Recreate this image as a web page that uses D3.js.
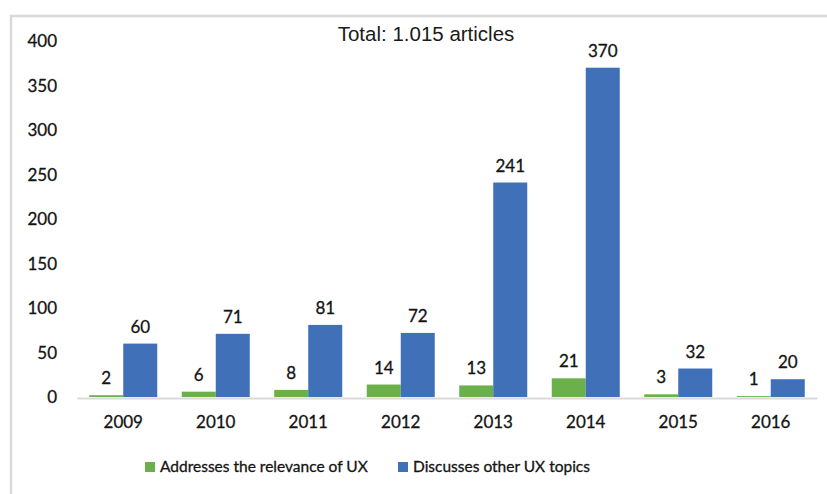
<!DOCTYPE html>
<html><head><meta charset="utf-8">
<script src="https://cdn.jsdelivr.net/npm/d3@7"></script>
<style>body{margin:0;background:#fff}svg{display:block}</style>
</head><body>
<script>
const years = ["2009","2010","2011","2012","2013","2014","2015","2016"];
const relevance = [2,6,8,14,13,21,3,1];
const otherTopics = [60,71,81,72,241,370,32,20];
const yTicks = [0,50,100,150,200,250,300,350,400];
const seriesNames = ["Addresses the relevance of UX","Discusses other UX topics"];
const colors = ["#6bb04a","#3f70b8"];
const title = "Total: 1.015 articles";

const W=827,H=494;
const svg=d3.select("body").append("svg").attr("width",W).attr("height",H);
const font="Lato, 'Open Sans', sans-serif";
const txt="#141414";
// frame
svg.append("path").attr("d",`M11,${H} L11,16 L${W},16`).attr("fill","none").attr("stroke","#d9d9d9").attr("stroke-width",2.5);

const x=d3.scaleBand().domain(years).range([77,817]).paddingInner(0).paddingOuter(0);
const y=d3.scaleLinear().domain([0,400]).range([397,41]);
const inner=d3.scaleBand().domain([0,1]).range([x.bandwidth()/2-34,x.bandwidth()/2+34]);

function style(sel,size){
  sel.attr("font-family",font).attr("font-size",size).attr("fill",txt).attr("stroke",txt).attr("stroke-width",0.3);
}

svg.append("text").attr("x",426).attr("y",41).attr("text-anchor","middle")
  .attr("font-family","'Liberation Sans', Arial, sans-serif").attr("font-size",20.5).attr("fill","#1a1a1a").text(title);

// y axis labels
const ya=svg.append("g").attr("transform","translate(57,0)").call(d3.axisLeft(y).tickValues(yTicks).tickSize(0).tickPadding(0));
ya.select(".domain").remove();
style(ya.selectAll("text"),17);
ya.selectAll("text").attr("dy","0.35em");

// bars
const data=years.map((yr,i)=>({yr,vals:[relevance[i],otherTopics[i]]}));
const g=svg.append("g");
data.forEach(d=>{
  d.vals.forEach((v,k)=>{
    const bx=x(d.yr)+inner(k);
    g.append("rect").attr("x",bx).attr("y",y(v)).attr("width",inner.bandwidth()).attr("height",y(0)-y(v)).attr("fill",colors[k]);
    style(g.append("text").attr("x",bx+inner.bandwidth()/2).attr("y",y(v)-11).attr("text-anchor","middle").text(v),17);
  });
});

// x axis
const xa=svg.append("g").attr("transform","translate(0,398)").call(d3.axisBottom(x).tickSize(0).tickPadding(18));
xa.select(".domain").attr("stroke","#d9d9d9").attr("stroke-width",2);
style(xa.selectAll("text"),17);

// legend
const leg=[{x:145},{x:398}];
seriesNames.forEach((n,k)=>{
  svg.append("rect").attr("x",leg[k].x).attr("y",462).attr("width",10).attr("height",10).attr("fill",colors[k]);
  style(svg.append("text").attr("x",leg[k].x+15).attr("y",467).attr("dy","0.35em").text(n),15.5);
});
</script>
</body></html>
